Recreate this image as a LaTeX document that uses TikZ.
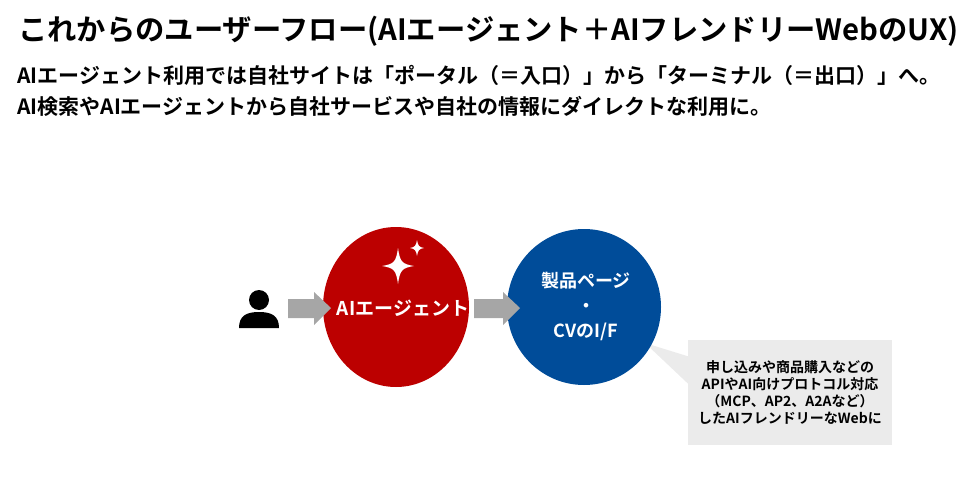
\documentclass[tikz,border=0pt]{standalone}
\usepackage{fontspec}
\setmainfont{Noto Sans CJK JP}[BoldFont={* Bold}]
\begin{document}
\begin{tikzpicture}[x=1pt,y=-1pt,
  arrowfill/.style={fill=black!35,draw=none},
  txt/.style={font=\bfseries,inner sep=0pt,anchor=west}]
\useasboundingbox (0,0) rectangle (971,484);
\node[txt,font=\bfseries\fontsize{29.3}{32}\selectfont] (title) at (18,31) {これからのユーザーフロー(AIエージェント＋AIフレンドリーWebのUX)};
\node[txt,font=\bfseries\fontsize{21}{24}\selectfont] (l1) at (17,75) {AIエージェント利用では自社サイトは「ポータル（＝入口）」から「ターミナル（＝出口）」へ。};
\node[txt,font=\bfseries\fontsize{21}{24}\selectfont] (l2) at (17,106) {AI検索やAIエージェントから自社サービスや自社の情報にダイレクトな利用に。};
% callout
\fill[black!8] (688,340) rectangle (892,445);
\fill[black!8] (645,343) -- (700,360) -- (700,395) -- cycle;
\node[font=\bfseries\fontsize{14}{17}\selectfont,align=center] (co) at (790,393) {申し込みや商品購入などの\\APIやAI向けプロトコル対応\\（MCP、AP2、A2Aなど）\\したAIフレンドリーなWebに};
% circles
\fill[fill={rgb,255:red,188;green,0;blue,0}] (396,307) ellipse (73 and 80);
\fill[fill={rgb,255:red,0;green,76;blue,153}] (584,307) ellipse (77 and 78);
\node[font=\bfseries\fontsize{19}{22}\selectfont,text=white] (ag) at (403,308) {AIエージェント};
\node[font=\bfseries\fontsize{18}{25}\selectfont,text=white,align=center] (cv) at (586,306) {製品ページ\\・\\CVのI/F};
% sparkle
\fill[white] (398,248) .. controls (400,262) and (402,264) .. (414,266) .. controls (402,268) and (400,270) .. (398,284) .. controls (396,270) and (394,268) .. (382,266) .. controls (394,264) and (396,262) .. (398,248) -- cycle;
\fill[white] (417,240) .. controls (418,246) and (419,247) .. (424,248) .. controls (419,249) and (418,250) .. (417,256) .. controls (416,250) and (415,249) .. (410,248) .. controls (415,247) and (416,246) .. (417,240) -- cycle;
% person
\fill[black] (259,300) circle (10);
\fill[black] (239,328) .. controls (239,316) and (246,312) .. (259,312) .. controls (272,312) and (279,316) .. (279,328) -- cycle;
% arrows
\fill[arrowfill] (288,299) -- (314,299) -- (314,292) -- (331,308) -- (314,325) -- (314,318) -- (288,318) -- cycle;
\fill[arrowfill] (474,299) -- (503,299) -- (503,292) -- (520,308) -- (503,325) -- (503,318) -- (474,318) -- cycle;
\end{tikzpicture}
\end{document}
